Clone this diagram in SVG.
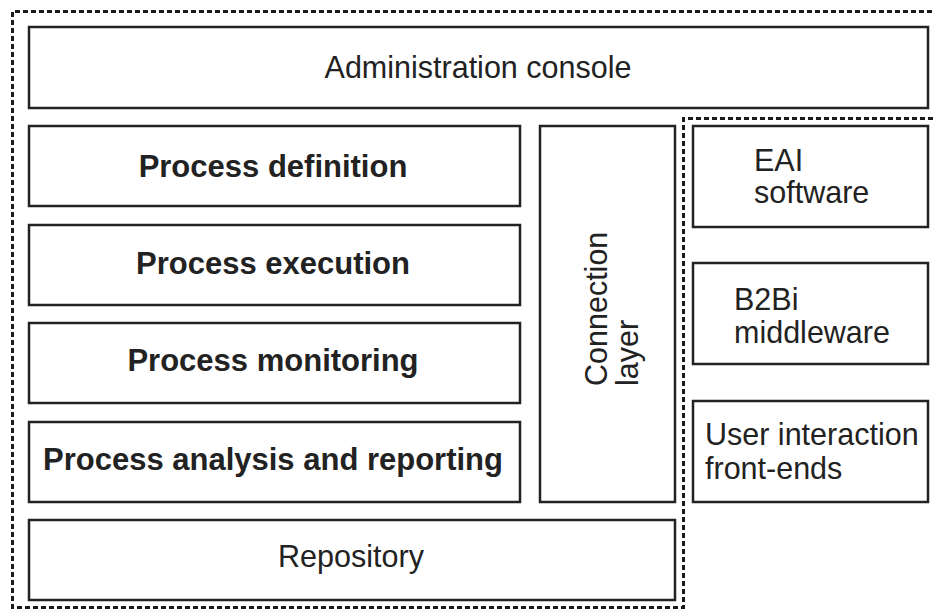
<svg xmlns="http://www.w3.org/2000/svg" width="935" height="611" viewBox="0 0 935 611">
<style>
.box{fill:#fff;stroke:#222;stroke-width:2.5}
.dash{fill:none;stroke:#1a1a1a;stroke-width:3;stroke-dasharray:5 3}
.t{font-family:"Liberation Sans",Arial,sans-serif;font-size:30.5px;fill:#222}
.b{font-weight:bold;font-size:31px}
.c{text-anchor:middle}
</style>
<rect width="935" height="611" fill="#fff"/>
<g id="boundaries">
<polyline class="dash" points="940,11.5 12.5,11.5 12.5,607.5 683.5,607.5 683.5,118.5 940,118.5"/>
</g>
<g id="admin"><rect class="box" x="29" y="27" width="899" height="81"/><text class="t c" x="478" y="78">Administration console</text></g>
<g id="def"><rect class="box" x="29" y="126" width="491" height="80"/><text class="t b c" x="273" y="177">Process definition</text></g>
<g id="exec"><rect class="box" x="29" y="225" width="491" height="80"/><text class="t b c" x="273" y="274">Process execution</text></g>
<g id="mon"><rect class="box" x="29" y="323" width="491" height="80"/><text class="t b c" x="273" y="371">Process monitoring</text></g>
<g id="ana"><rect class="box" x="29" y="422" width="491" height="80"/><text class="t b c" x="273" y="470">Process analysis and reporting</text></g>
<g id="conn"><rect class="box" x="540" y="126" width="135" height="376"/>
<text class="t" transform="translate(607,386) rotate(-90)">Connection</text>
<text class="t" transform="translate(638,386) rotate(-90)">layer</text></g>
<g id="repo"><rect class="box" x="29" y="520" width="646" height="80"/><text class="t c" x="351" y="567">Repository</text></g>
<g id="eai"><rect class="box" x="693" y="126" width="235" height="101"/><text class="t" x="754" y="171">EAI</text><text class="t" x="754" y="203">software</text></g>
<g id="b2bi"><rect class="box" x="693" y="263" width="235" height="101"/><text class="t" x="734" y="310">B2Bi</text><text class="t" x="734" y="343">middleware</text></g>
<g id="ui"><rect class="box" x="693" y="401" width="235" height="101"/><text class="t" x="705" y="445">User interaction</text><text class="t" x="705" y="479">front-ends</text></g>
<g id="connectors"/>
</svg>
